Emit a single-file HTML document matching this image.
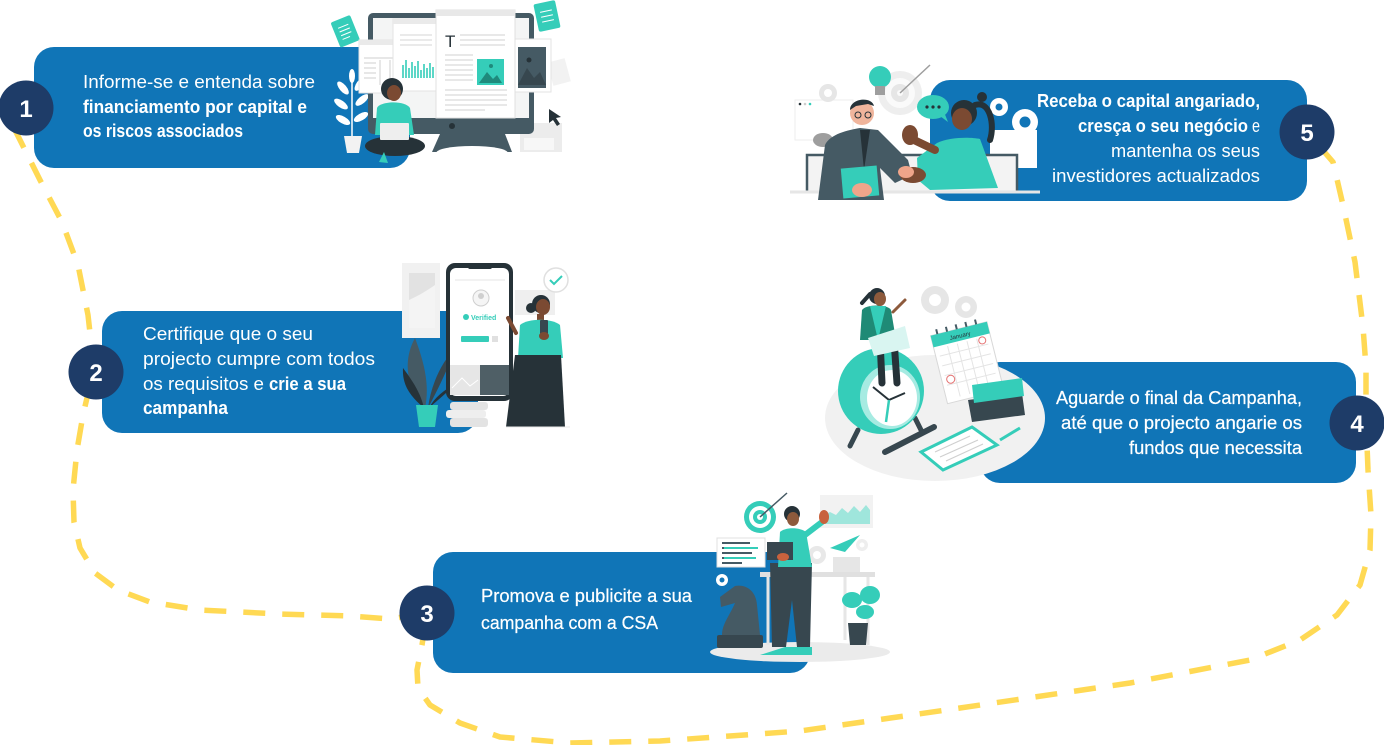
<!DOCTYPE html>
<html><head><meta charset="utf-8">
<style>
html,body{margin:0;padding:0;background:#fff;}
svg{display:block;}
text{font-family:"Liberation Sans",sans-serif;}
</style></head>
<body>
<svg width="1384" height="745" viewBox="0 0 1384 745" xmlns="http://www.w3.org/2000/svg">
<!-- dashed path -->
<path d="M14,128 L40,180 L62,222 L78,265 L88,315 L93,360 L90,385 L83,415 L77,450 L73,490 L74,522 L80,548 L95,573 L118,590 L150,602 L200,610 L280,614 L350,616 L390,619 L427,613 L422,645 L417,670 L418,688 L430,705 L460,723 L500,737 L570,743 L660,741 L800,731 L960,708 L1130,683 L1250,660 L1300,640 L1337,615 L1360,585 L1370,550 L1371,515 L1368,470 L1366,420 L1366,367 L1363,327 L1355,262 L1343,205 L1333,162 L1307,132" fill="none" stroke="#FFD954" stroke-width="5.5" stroke-dasharray="22 17" stroke-linejoin="round"/>

<!-- boxes -->
<rect x="34" y="47" width="376" height="121" rx="20" fill="#1075B7"/>
<rect x="102" y="311" width="376" height="122" rx="20" fill="#1075B7"/>
<rect x="433" y="552" width="377" height="121" rx="20" fill="#1075B7"/>
<rect x="980" y="362" width="376" height="121" rx="20" fill="#1075B7"/>
<rect x="930" y="80" width="377" height="121" rx="20" fill="#1075B7"/>

<!-- ===== Illustration 1 ===== -->
<g>
 <g transform="rotate(-22 345 32)"><rect x="335" y="18" width="21" height="27" rx="2" fill="#35CDB9"/><path d="M340 26h11M340 30h11M340 34h11M340 38h8" stroke="#fff" stroke-width="1"/></g>
 <g transform="rotate(-12 547 16)"><rect x="536" y="2" width="22" height="28" rx="2" fill="#35CDB9"/><path d="M541 11h12M541 16h12M541 21h12" stroke="#fff" stroke-width="1"/></g>
 <!-- plant -->
 <path d="M352 138 L352 80" stroke="#fff" stroke-width="1.5"/>
 <g fill="#fff">
  <ellipse cx="343" cy="88" rx="3.5" ry="8" transform="rotate(-40 343 88)"/>
  <ellipse cx="360" cy="84" rx="3.5" ry="8" transform="rotate(35 360 84)"/>
  <ellipse cx="341" cy="104" rx="3.5" ry="8" transform="rotate(-55 341 104)"/>
  <ellipse cx="362" cy="100" rx="3.5" ry="8" transform="rotate(50 362 100)"/>
  <ellipse cx="343" cy="120" rx="3.5" ry="8" transform="rotate(-60 343 120)"/>
  <ellipse cx="361" cy="117" rx="3.5" ry="8" transform="rotate(60 361 117)"/>
  <ellipse cx="352" cy="76" rx="3" ry="7"/>
 </g>
 <path d="M344 136 H362 L359 153 H347 Z" fill="#f2f2f2"/>
 <!-- desk boxes right -->
 <rect x="520" y="123" width="42" height="29" fill="#ececec"/>
 <rect x="524" y="138" width="30" height="12" fill="#f7f7f7"/>
 <rect x="550" y="60" width="18" height="24" fill="#f2f2f2" transform="rotate(-15 559 72)"/>
 <!-- monitor -->
 <rect x="368" y="13" width="166" height="121" rx="5" fill="#455A64"/>
 <rect x="373" y="18" width="156" height="100" fill="#f4f5f5"/>
 <circle cx="452" cy="126" r="3" fill="#263238"/>
 <path d="M440 134 H505 L512 152 H432 Z" fill="#455A64"/>
 <ellipse cx="472" cy="153" rx="36" ry="7" fill="#fff"/>
 <!-- windows -->
 <rect x="359" y="40" width="42" height="53" fill="#fff" stroke="#e3e3e3"/>
 <rect x="359" y="40" width="42" height="5" fill="#eaeaea"/>
 <path d="M364 58h30M364 63h12M364 68h12M364 73h12M364 78h12M380 60v25M390 60v25" stroke="#cfcfcf" stroke-width="1"/>
 <rect x="393" y="19" width="45" height="72" fill="#fff" stroke="#e3e3e3"/>
 <rect x="393" y="19" width="45" height="5" fill="#eaeaea"/>
 <path d="M400 35h32M400 40h32M400 45h32" stroke="#d6d6d6" stroke-width="1"/>
 <path d="M403 78 V65 M406 78 V60 M409 78 V68 M412 78 V62 M415 78 V66 M418 78 V61 M421 78 V70 M424 78 V64 M427 78 V68 M430 78 V63 M433 78 V67" stroke="#35CDB9" stroke-width="1.6"/>
 <rect x="515" y="39" width="36" height="53" fill="#fff" stroke="#e3e3e3"/>
 <rect x="518" y="47" width="28" height="41" fill="#455A64"/>
 <path d="M518 85 L527 68 L534 78 L540 72 L546 85 Z" fill="#37474F"/>
 <circle cx="529" cy="60" r="2.5" fill="#263238"/>
 <rect x="436" y="10" width="79" height="108" fill="#fff" stroke="#e0e0e0"/>
 <rect x="436" y="10" width="79" height="6" fill="#e8e8e8"/>
 <text x="445" y="47" font-family="Liberation Serif,serif" font-size="17" fill="#263238">T</text>
 <path d="M460 35h45M460 40h45M460 45h45M445 55h28M445 60h28M445 65h28M445 70h28M445 75h28M445 80h28M445 90h62M445 95h62M445 100h62M445 105h62M445 110h40" stroke="#d9d9d9" stroke-width="1.2"/>
 <rect x="477" y="59" width="27" height="26" fill="#35CDB9"/>
 <path d="M479 83 L487 72 L493 79 L497 75 L502 83 Z" fill="#1f8a7c"/>
 <circle cx="491" cy="66" r="2" fill="#1f8a7c"/>
 <!-- cursor -->
 <path d="M549 109 L561 117 L556 118 L560 124 L557 126 L553 120 L549 123 Z" fill="#263238"/>
 <!-- person -->
 <circle cx="392" cy="89" r="11" fill="#263238"/>
 <ellipse cx="394" cy="93" rx="7" ry="8" fill="#7b4a32"/>
 <path d="M375 135 L377 108 C380 101 405 100 410 108 L414 135 Z" fill="#35CDB9"/>
 <ellipse cx="395" cy="146" rx="30" ry="10" fill="#263238"/>
 <rect x="380" y="123" width="29" height="17" rx="1" fill="#eeeeee"/>
 <path d="M384 152 L379 162 L388 163 Z" fill="#35CDB9"/>
</g>

<!-- ===== Illustration 2 ===== -->
<g>
 <rect x="402" y="263" width="38" height="75" fill="#f1f1f1"/>
 <rect x="409" y="273" width="26" height="55" fill="#e2e2e2"/>
 <path d="M409 328 L409 300 C418 296 428 290 435 285 L435 328 Z" fill="#f4f4f4"/>
 <rect x="515" y="290" width="40" height="25" fill="#efefef"/>
 <!-- plant -->
 <path d="M425 408 C404 384 404 358 415 338 C424 362 430 385 425 408Z" fill="#455A64"/>
 <path d="M428 408 C442 382 450 362 458 345 C441 362 431 385 428 408Z" fill="#37474F"/>
 <path d="M424 408 C410 396 402 385 403 368 C415 384 421 395 424 408Z" fill="#263238"/>
 <path d="M429 408 C440 398 448 392 455 384 C444 390 434 398 429 408Z" fill="#263238"/>
 <path d="M416 405 H438 L435 427 H419 Z" fill="#35CDB9"/>
 <!-- books -->
 <rect x="450" y="402" width="38" height="8" rx="3" fill="#e3e3e3"/>
 <rect x="446" y="410" width="40" height="8" rx="3" fill="#eeeeee"/>
 <rect x="450" y="418" width="38" height="9" rx="3" fill="#e3e3e3"/>
 <!-- phone -->
 <rect x="446" y="263" width="67" height="138" rx="9" fill="#263238"/>
 <rect x="450" y="268" width="59" height="128" rx="6" fill="#fff"/>
 <rect x="468" y="264" width="24" height="5" rx="2" fill="#263238"/>
 <path d="M455 280h50" stroke="#e5e5e5" stroke-width="1"/>
 <circle cx="481" cy="298" r="8" fill="#f5f5f5" stroke="#cfcfcf" stroke-width="1"/>
 <circle cx="481" cy="296" r="3" fill="#cfcfcf"/>
 <circle cx="466" cy="317" r="3" fill="#35CDB9"/>
 <text x="471" y="320" font-size="7" font-weight="bold" fill="#35CDB9">Verified</text>
 <rect x="461" y="336" width="28" height="6" rx="1" fill="#35CDB9"/>
 <rect x="492" y="336" width="6" height="6" fill="#e0e0e0"/>
 <rect x="450" y="365" width="30" height="30" fill="#e6e6e6"/>
 <rect x="480" y="365" width="29" height="30" fill="#4f5f66"/>
 <path d="M452 388 L462 378 L470 386 L478 380" fill="none" stroke="#fff" stroke-width="1"/>
 <!-- woman -->
 <circle cx="556" cy="280" r="12" fill="#fff" stroke="#e0e0e0" stroke-width="1.5"/>
 <path d="M550 280 L554 284 L562 276" fill="none" stroke="#35CDB9" stroke-width="2"/>
 <circle cx="531" cy="308" r="5" fill="#263238"/>
 <circle cx="541" cy="304" r="9" fill="#263238"/>
 <ellipse cx="543" cy="307" rx="7" ry="8" fill="#7b4a32"/>
 <rect x="537" y="314" width="7" height="8" fill="#7b4a32"/>
 <path d="M518 358 L520 325 C528 318 552 318 560 325 L563 358 Z" fill="#35CDB9"/>
 <path d="M516 333 L508 318" stroke="#7b4a32" stroke-width="4" stroke-linecap="round"/>
 <rect x="540" y="320" width="8" height="15" rx="1" fill="#37474F"/>
 <ellipse cx="544" cy="336" rx="5" ry="4" fill="#7b4a32"/>
 <path d="M515 355 L561 355 L565 427 L506 427 Z" fill="#263238"/>
 <path d="M506 427 H570" stroke="#e8e8e8" stroke-width="1"/>
</g>

<!-- ===== Illustration 3 ===== -->
<g>
 <ellipse cx="800" cy="652" rx="90" ry="10" fill="#ebebeb"/>
 <rect x="820" y="495" width="53" height="33" fill="#f2f2f2"/>
 <path d="M824 524 L824 515 L830 512 L836 515 L842 508 L848 513 L854 506 L860 512 L866 505 L870 510 L870 524 Z" fill="#9fe6dc"/>
 <rect x="833" y="557" width="27" height="16" fill="#e6e6e6"/>
 <rect x="760" y="572" width="115" height="5" fill="#e0e0e0"/>
 <path d="M768 577 V645 M868 577 V645 M845 577 V640" stroke="#e6e6e6" stroke-width="3"/>
 <circle cx="760" cy="517" r="16" fill="#35CDB9"/>
 <circle cx="760" cy="517" r="11" fill="#fff"/>
 <circle cx="760" cy="517" r="7" fill="#35CDB9"/>
 <circle cx="760" cy="517" r="3" fill="#fff"/>
 <path d="M760 517 L787 493" stroke="#455A64" stroke-width="1.5"/>
 <rect x="717" y="538" width="48" height="29" fill="#fff" stroke="#e0e0e0"/>
 <path d="M722 543h28M722 548h36M722 553h30M722 558h34M722 563h20" stroke="#455A64" stroke-width="2"/>
 <path d="M724 548h34M724 558h32" stroke="#35CDB9" stroke-width="2"/>
 <path d="M830 548 L860 535 L845 552 Z" fill="#35CDB9"/>
 <circle cx="817" cy="555" r="9" fill="#e8e8e8"/><circle cx="817" cy="555" r="4" fill="#fff"/>
 <circle cx="862" cy="545" r="6" fill="#eeeeee"/><circle cx="862" cy="545" r="2.5" fill="#fff"/>
 <circle cx="722" cy="580" r="6" fill="#fff"/><circle cx="722" cy="580" r="2.5" fill="#1075B7"/>
 <path d="M722 635 L760 635 L757 605 C756 590 745 584 735 586 L720 597 L721 607 L735 603 C730 615 722 624 722 635 Z" fill="#455A64"/>
 <rect x="717" y="635" width="46" height="13" rx="2" fill="#37474F"/>
 <ellipse cx="852" cy="600" rx="10" ry="8" fill="#35CDB9"/>
 <ellipse cx="870" cy="595" rx="10" ry="9" fill="#35CDB9"/>
 <ellipse cx="865" cy="612" rx="9" ry="7" fill="#35CDB9"/>
 <path d="M848 623 H868 L866 645 H850 Z" fill="#37474F"/>
 <path d="M770 563 L812 563 L810 647 L797 647 L792 600 L786 647 L772 647 Z" fill="#37474F"/>
 <path d="M760 655 L785 647 L797 647 L812 647 L812 655 Z" fill="#35CDB9"/>
 <path d="M778 567 L780 532 C785 527 800 527 806 532 L812 567 Z" fill="#35CDB9"/>
 <path d="M805 535 L822 522" stroke="#35CDB9" stroke-width="6" stroke-linecap="round"/>
 <ellipse cx="824" cy="517" rx="5" ry="7" fill="#c8623d"/>
 <circle cx="792" cy="514" r="8" fill="#263238"/>
 <ellipse cx="793" cy="519" rx="6" ry="7" fill="#8d5a3c"/>
 <rect x="767" y="542" width="26" height="18" fill="#37474F"/>
 <ellipse cx="783" cy="557" rx="6" ry="4" fill="#c8623d"/>
</g>

<!-- ===== Illustration 4 ===== -->
<g>
 <ellipse cx="935" cy="418" rx="110" ry="63" fill="#f1f1f1"/>
 <circle cx="935" cy="300" r="14" fill="#e6e6e6"/><circle cx="935" cy="300" r="6" fill="#fff"/>
 <circle cx="966" cy="307" r="11" fill="#e6e6e6"/><circle cx="966" cy="307" r="4.5" fill="#fff"/>
 <g transform="rotate(-14 966 362)">
  <rect x="938" y="328" width="58" height="70" fill="#fff" stroke="#d8d8d8"/>
  <rect x="938" y="328" width="58" height="12" fill="#35CDB9"/>
  <text x="956" y="337" font-size="6" fill="#263238">January</text>
  <path d="M942 350h50M942 360h50M942 370h50M942 380h50M952 342v52M962 342v52M972 342v52M982 342v52" stroke="#e4e4e4" stroke-width="1"/>
  <circle cx="947" cy="375" r="4" fill="none" stroke="#e57373"/>
  <circle cx="987" cy="345" r="3.5" fill="none" stroke="#e57373"/>
  <path d="M945 328v-5M955 328v-5M965 328v-5M975 328v-5M985 328v-5" stroke="#455A64" stroke-width="2"/>
 </g>
 <path d="M968 400 L1022 393 L1025 415 L972 422 Z" fill="#37474F"/>
 <path d="M972 385 L1022 378 L1024 396 L974 403 Z" fill="#35CDB9"/>
 <path d="M1000 440 L1020 428" stroke="#35CDB9" stroke-width="3"/>
 <path d="M885 452 L934 427" stroke="#37474F" stroke-width="6" stroke-linecap="round"/>
 <path d="M921 452 L972 427 L997 445 L943 470 Z" fill="#fff" stroke="#35CDB9" stroke-width="3"/>
 <path d="M935 452 L970 436 M940 457 L978 440 M946 461 L983 444" stroke="#cfcfcf" stroke-width="1.2"/>
 <path d="M858 430 L850 446 M915 418 L922 432" stroke="#37474F" stroke-width="5" stroke-linecap="round"/>
 <ellipse cx="881" cy="391" rx="43" ry="43" fill="#35CDB9"/>
 <ellipse cx="890" cy="397" rx="30" ry="32" fill="#a6ebe2"/>
 <ellipse cx="892" cy="398" rx="25" ry="28" fill="#fff"/>
 <path d="M889 400 L873 387 M889 400 L905 393" stroke="#263238" stroke-width="2"/>
 <path d="M889 400 L886 422" stroke="#35CDB9" stroke-width="2.5"/>
 <path d="M880 340 L882 383 M894 340 L897 383" stroke="#263238" stroke-width="7" stroke-linecap="round"/>
 <path d="M860 340 L862 310 C866 304 888 304 891 310 L896 340 Z" fill="#1f8a76"/>
 <path d="M870 306 L878 340 L886 306 Z" fill="#35CDB9"/>
 <path d="M868 338 L905 326 L910 348 L874 356 Z" fill="#d9f5f1"/>
 <path d="M893 312 L905 300" stroke="#8d5a3c" stroke-width="3" stroke-linecap="round"/>
 <circle cx="877" cy="296" r="8" fill="#263238"/>
 <ellipse cx="880" cy="299" rx="6" ry="7" fill="#8d5a3c"/>
 <path d="M870 294 L862 303" stroke="#263238" stroke-width="4" stroke-linecap="round"/>
</g>

<!-- ===== Illustration 5 ===== -->
<g>
 <rect x="795" y="100" width="58" height="40" fill="#fff" stroke="#eeeeee"/>
 <circle cx="800" cy="104" r="1.3" fill="#263238"/><circle cx="805" cy="104" r="1.3" fill="#ccc"/><circle cx="810" cy="104" r="1.3" fill="#35CDB9"/>
 <ellipse cx="823" cy="140" rx="10" ry="7" fill="#9e9e9e"/>
 <circle cx="828" cy="93" r="9" fill="#e6e6e6"/><circle cx="828" cy="93" r="4" fill="#fff"/>
 <circle cx="900" cy="93" r="22" fill="#eeeeee"/>
 <circle cx="900" cy="93" r="15" fill="#fafafa"/>
 <circle cx="900" cy="93" r="9" fill="#e6e6e6"/>
 <circle cx="900" cy="93" r="3" fill="#fafafa"/>
 <path d="M900 93 L930 65" stroke="#9e9e9e" stroke-width="1.5"/>
 <circle cx="880" cy="77" r="11" fill="#35CDB9"/>
 <rect x="875" y="86" width="10" height="9" fill="#9e9e9e"/>
 <rect x="990" y="130" width="47" height="38" fill="#fff"/>
 <rect x="807" y="155" width="210" height="37" fill="#f3f3f3" stroke="#455A64" stroke-width="2.5"/>
 <path d="M790 192 H1040" stroke="#e6e6e6" stroke-width="3"/>
 <circle cx="999" cy="107" r="9" fill="#fff"/><circle cx="999" cy="107" r="3.5" fill="#1075B7"/>
 <circle cx="1025" cy="122" r="13" fill="#fff"/><circle cx="1025" cy="122" r="5.5" fill="#1075B7"/>
 <ellipse cx="933" cy="107" rx="16" ry="12" fill="#35CDB9"/>
 <path d="M940 116 L948 122 L944 112 Z" fill="#35CDB9"/>
 <circle cx="927" cy="107" r="1.6" fill="#263238"/><circle cx="933" cy="107" r="1.6" fill="#263238"/><circle cx="939" cy="107" r="1.6" fill="#263238"/>
 <path d="M818 200 L825 145 C830 134 848 130 860 128 L878 130 L908 160 L912 175 L895 183 L880 168 L884 200 Z" fill="#455A64"/>
 <path d="M860 130 L864 170 L870 130 Z" fill="#263238"/>
 <rect x="842" y="167" width="36" height="30" fill="#35CDB9" transform="rotate(-5 860 182)"/>
 <ellipse cx="862" cy="190" rx="10" ry="7" fill="#f0a58a"/>
 <circle cx="862" cy="113" r="12" fill="#f0b59c"/>
 <path d="M850 110 C850 98 872 96 874 106 L868 104 L856 106 Z" fill="#263238"/>
 <circle cx="858" cy="115" r="3" fill="none" stroke="#263238"/><circle cx="868" cy="115" r="3" fill="none" stroke="#263238"/>
 <path d="M975 105 C990 100 995 125 990 140" stroke="#263238" stroke-width="6" fill="none" stroke-linecap="round"/>
 <circle cx="982" cy="97" r="5" fill="#263238"/>
 <circle cx="964" cy="113" r="13" fill="#263238"/>
 <ellipse cx="962" cy="119" rx="10" ry="11" fill="#7b4a32"/>
 <path d="M917 158 L937 143 C950 137 970 137 980 139 L998 188 L930 190 L918 180 Z" fill="#35CDB9"/>
 <path d="M935 150 L914 140" stroke="#7b4a32" stroke-width="8" stroke-linecap="round"/>
 <ellipse cx="910" cy="135" rx="8" ry="10" fill="#7b4a32"/>
 <ellipse cx="913" cy="175" rx="13" ry="8" fill="#7b4a32"/>
 <ellipse cx="906" cy="172" rx="8" ry="6" fill="#f0a58a"/>
</g>

<!-- circles -->
<g fill="#1E3C68">
 <circle cx="26" cy="108" r="27.5"/>
 <circle cx="96" cy="372" r="27.5"/>
 <circle cx="427" cy="613" r="27.5"/>
 <circle cx="1357" cy="423" r="27.5"/>
 <circle cx="1307" cy="132" r="27.5"/>
</g>
<g fill="#fff" font-weight="bold" font-size="24" text-anchor="middle">
 <text x="26" y="117">1</text>
 <text x="96" y="381">2</text>
 <text x="427" y="622">3</text>
 <text x="1357" y="432">4</text>
 <text x="1307" y="141">5</text>
</g>

<!-- texts -->
<g fill="#fff" font-size="18">
 <text x="83" y="88" textLength="232" lengthAdjust="spacingAndGlyphs">Informe-se e entenda sobre</text>
 <text x="83" y="113" font-weight="bold" textLength="224" lengthAdjust="spacingAndGlyphs">financiamento por capital e</text>
 <text x="83" y="137" font-weight="bold" textLength="160" lengthAdjust="spacingAndGlyphs">os riscos associados</text>

 <text x="143" y="340" textLength="170" lengthAdjust="spacingAndGlyphs">Certifique que o seu</text>
 <text x="143" y="365" textLength="232" lengthAdjust="spacingAndGlyphs">projecto cumpre com todos</text>
 <text x="143" y="390" textLength="121" lengthAdjust="spacingAndGlyphs">os requisitos e</text>
 <text x="269" y="390" font-weight="bold" textLength="77" lengthAdjust="spacingAndGlyphs">crie a sua</text>
 <text x="143" y="414" font-weight="bold" textLength="85" lengthAdjust="spacingAndGlyphs">campanha</text>

 <g stroke="#fff" stroke-width="0.22">
 <text x="481" y="602" textLength="211" lengthAdjust="spacingAndGlyphs">Promova e publicite a sua</text>
 <text x="481" y="629" textLength="177" lengthAdjust="spacingAndGlyphs">campanha com a CSA</text>

 <text x="1056" y="404" textLength="246" lengthAdjust="spacingAndGlyphs">Aguarde o final da Campanha,</text>
 <text x="1061" y="429" textLength="241" lengthAdjust="spacingAndGlyphs">até que o projecto angarie os</text>
 <text x="1129" y="454" textLength="173" lengthAdjust="spacingAndGlyphs">fundos que necessita</text>
 </g>

 <text x="1037" y="107" font-weight="bold" textLength="223" lengthAdjust="spacingAndGlyphs">Receba o capital angariado,</text>
 <text x="1078" y="132" font-weight="bold" textLength="170" lengthAdjust="spacingAndGlyphs">cresça o seu negócio</text>
 <text x="1252" y="132" textLength="8" lengthAdjust="spacingAndGlyphs">e</text>
 <text x="1111" y="157" textLength="149" lengthAdjust="spacingAndGlyphs">mantenha os seus</text>
 <text x="1052" y="182" textLength="208" lengthAdjust="spacingAndGlyphs">investidores actualizados</text>
</g>
</svg>
</body></html>
